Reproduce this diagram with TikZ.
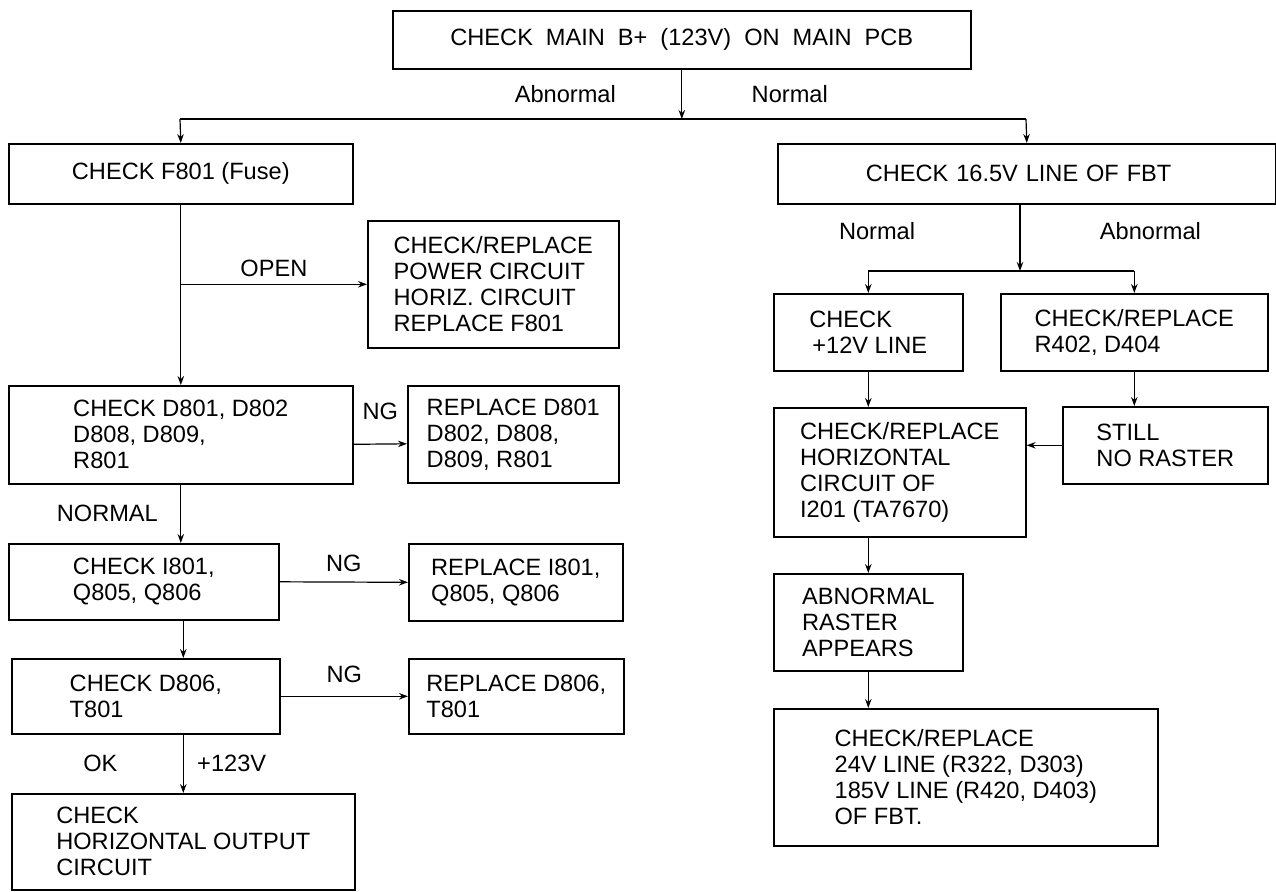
\documentclass[tikz,border=0pt]{standalone}
\usepackage{fontspec}
\setmainfont{Liberation Sans}
\usetikzlibrary{arrows.meta}
\begin{document}
\begin{tikzpicture}[x=1pt,y=-1pt,>={Stealth[length=9pt,width=6.5pt]},
                  every node/.style={font=\fontsize{23.6}{26}\selectfont},
                  box/.style={draw,line width=1.6pt,anchor=north west,inner sep=0pt,align=left},
                  link/.style={line width=1.2pt}]
                  \useasboundingbox (0,0) rectangle (1276,891);
                  \node[box,minimum width=578,minimum height=58] (mainb) at (392,10) {\spaceskip=0.55em CHECK MAIN B+ (123V) ON MAIN PCB};
                  \node[box,minimum width=344,minimum height=60] (fuse) at (8,143) {CHECK F801 (Fuse)};
                  \node[box,text width=322,inner xsep=88,minimum height=60] (fbt) at (777,143) {CHECK 16.5V LINE OF FBT};
                  \node[box,minimum width=251,minimum height=127] (power) at (367,220) {CHECK/REPLACE\\POWER CIRCUIT\\HORIZ. CIRCUIT\\REPLACE F801};
                  \node[box,minimum width=344,minimum height=98] (d801) at (8,385) {CHECK D801, D802\\D808, D809,\\R801};
                  \node[box,minimum width=211,minimum height=97] (rd801) at (407,385) {REPLACE D801\\D802, D808,\\D809, R801};
                  \node[box,minimum width=270,minimum height=76] (i801) at (8,543) {CHECK I801,\\Q805, Q806};
                  \node[box,minimum width=214,minimum height=77] (ri801) at (408,543) {REPLACE I801,\\Q805, Q806};
                  \node[box,minimum width=268,minimum height=75] (d806) at (11,658) {CHECK D806,\\T801};
                  \node[box,minimum width=215,minimum height=75] (rd806) at (408,658) {REPLACE D806,\\T801};
                  \node[box,minimum width=343,minimum height=96] (hout) at (11,793) {CHECK\\HORIZONTAL OUTPUT\\CIRCUIT};
                  \node[box,minimum width=189,minimum height=77] (p12) at (773,293) {CHECK\\\hspace{3pt}+12V LINE};
                  \node[box,minimum width=267,minimum height=77] (r402) at (1000,293) {CHECK/REPLACE\\R402, D404};
                  \node[box,minimum width=252,minimum height=129] (hcirc) at (773,407) {CHECK/REPLACE\\HORIZONTAL\\CIRCUIT OF\\I201 (TA7670)};
                  \node[box,minimum width=205,minimum height=77] (still) at (1062,406) {STILL\\NO RASTER};
                  \node[box,minimum width=189,minimum height=97] (abn) at (773,573) {ABNORMAL\\RASTER\\APPEARS};
                  \node[box,minimum width=384,minimum height=137] (fbtl) at (773,708) {CHECK/REPLACE\\24V LINE (R322, D303)\\185V LINE (R420, D403)\\OF FBT.};
                  \coordinate (lj) at (180,119);
                  \coordinate (rj) at (1026,119);
                  \coordinate (fj) at (1020,271);
                  \draw[link,->](mainb.south)--node[pos=0.5,left=62pt]{Abnormal}node[pos=0.5,right=66pt]{Normal}(mainb.south |- lj);
                  \draw[link](lj)--(rj);
                  \draw[link,->](lj)--(fuse.north);
                  \draw[link,->](rj)--(fbt.north);
                  \draw[link,->](fuse.south)--(d801.north);
                  \draw[link,->](fuse.south |- power.west)--node[above=4pt]{OPEN}(power.west);
                  \draw[link,->]([yshift=-9.5pt]d801.east)--node[above=20pt]{NG}([yshift=-9.5pt]rd801.west);
                  \draw[link,->](d801.south)--node[left=19pt]{NORMAL}(d801.south |- i801.north);
                  \draw[link,->](i801.east)--node[above=6pt]{NG}(ri801.west);
                  \draw[link,->](hout.north |- i801.south)--(hout.north |- d806.north);
                  \draw[link,->](d806.east)--node[above=9.5pt]{NG}(rd806.west);
                  \draw[link,->](hout.north |- d806.south)--node[left=62pt]{OK}node[right=10pt]{+123V}(hout.north);
                  \draw[link,->](fj |- fbt.south)--node[pos=0.4,left=101pt]{Normal}node[pos=0.4,right=76pt]{Abnormal}(fj);
                  \draw[link](fj -| p12.north)--(fj -| r402.north);
                  \draw[link,->](fj -| p12.north)--(p12.north);
                  \draw[link,->](fj -| r402.north)--(r402.north);
                  \draw[link,->](p12.south)--(p12.south |- hcirc.north);
                  \draw[link,->](r402.south)--(r402.south |- still.north);
                  \draw[link,->](still.west)--(still.west -| hcirc.east);
                  \draw[link,->](p12.south |- hcirc.south)--(abn.north);
                  \draw[link,->](abn.south)--(abn.south |- fbtl.north);
              \end{tikzpicture}
\end{document}
